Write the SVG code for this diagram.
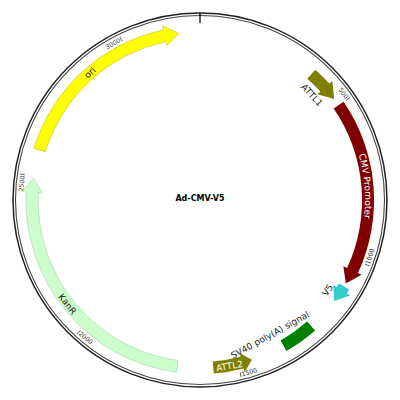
<svg xmlns="http://www.w3.org/2000/svg" width="400" height="400" viewBox="0 0 400 400">
<style>
text{font-family:"DejaVu Sans","Liberation Sans",sans-serif}
.lbl{font-size:9px;fill:#1a1a1a;text-anchor:middle}
.wl{font-size:9px;fill:#ffffff;text-anchor:middle}
.tk{font-size:6.3px;fill:#333;text-anchor:middle}
.tl{stroke:#333;stroke-width:0.8}
</style>
<defs>
<path id="cmvArc" d="M336.1,106.8 A164.5 164.5 0 0 1 349.8,269.2" fill="none"/>
</defs>
<rect width="400" height="400" fill="#fff"/>
<g id="backbone" fill="none">
<circle cx="200" cy="200" r="187" stroke="#222" stroke-width="1.5"/>
<circle cx="200" cy="200" r="184.5" stroke="#444" stroke-width="1.1"/>
<line x1="200" y1="13" x2="200" y2="23" stroke="#000" stroke-width="1.3"/>
</g>
<g id="ticks">
<line class="tl" x1="346.1" y1="100.2" x2="350.3" y2="97.3"/>
<line class="tl" x1="364.9" y1="264.2" x2="369.6" y2="266.0"/>
<line class="tl" x1="240.1" y1="372.4" x2="241.2" y2="377.3"/>
<line class="tl" x1="80.3" y1="330.3" x2="76.9" y2="334.0"/>
<line class="tl" x1="24.8" y1="174.7" x2="19.9" y2="174.0"/>
<line class="tl" x1="122.0" y1="41.1" x2="119.8" y2="36.6"/>
<text class="tk" dy=".35em" transform="translate(343.6,93.2) rotate(53.3)">500</text>
<text class="tk" dy=".35em" transform="translate(369.9,256.4) rotate(-71.65)">1000</text>
<text class="tk" dy=".35em" transform="translate(249.4,372.1) rotate(-16)">1500</text>
<text class="tk" dy=".35em" transform="translate(85.8,337.8) rotate(39.6)">2000</text>
<text class="tk" dy=".35em" transform="translate(21.75,183.5) rotate(-84.7)">2500</text>
<text class="tk" dy=".35em" transform="translate(113,43.6) rotate(-29.1)">3000</text>
</g>
<g id="ori">
<path d="M33.9,148.3 A174 174 0 0 1 163.5,29.9 L162.7,26.0 L178.6,33.4 L166.9,45.5 L166.0,41.6 A162 162 0 0 0 45.3,151.8 Z" fill="#ffff00" stroke="#b5b500" stroke-width="0.5"/>
<text class="lbl" dy=".35em" transform="translate(90,72.5) rotate(-41)">ori</text>
</g>
<g id="KanR">
<path d="M176.4,372.4 A174 174 0 0 1 26.2,191.8 L22.2,191.6 L33.4,178.1 L42.2,192.6 L38.2,192.4 A162 162 0 0 0 178.0,360.5 Z" fill="#ccffcc" stroke="#99c799" stroke-width="0.5"/>
<text class="lbl" dy=".35em" transform="translate(67.5,304) rotate(52)">KanR</text>
</g>
<g id="ATTL1">
<path d="M315.3,69.7 A174 174 0 0 1 329.3,83.6 L332.3,80.9 L334.2,98.9 L317.4,94.3 L320.4,91.6 A162 162 0 0 0 307.3,78.7 Z" fill="#808000"/>
<text class="lbl" dy=".35em" transform="translate(312,95) rotate(47)">ATTL1</text>
</g>
<g id="CMV_Promoter">
<path d="M343.6,101.7 A174 174 0 0 1 358.0,273.0 L361.6,274.7 L345.8,283.5 L343.4,266.3 L347.1,268.0 A162 162 0 0 0 333.7,108.5 Z" fill="#800000"/>
<text class="wl"><textPath href="#cmvArc" startOffset="50%">CMV Promoter</textPath></text>
</g>
<g id="V5">
<path d="M349.2,289.6 A174 174 0 0 1 346.8,293.5 L350.1,295.6 L334.2,301.1 L333.3,284.9 L336.6,287.0 A162 162 0 0 0 338.9,283.4 Z" fill="#33cccc"/>
<text class="lbl" dy=".35em" transform="translate(327.5,290) rotate(-55)">V5</text>
</g>
<g id="SV40_polyA">
<path d="M315.1,330.5 A174 174 0 0 1 286.5,351.0 L280.5,340.6 A162 162 0 0 0 307.1,321.5 Z" fill="#008000"/>
<text class="lbl" dy=".35em" transform="translate(270,335) rotate(-29)">SV40 poly(A) signal</text>
</g>
<g id="ATTL2">
<path d="M213.7,373.5 A174 174 0 0 0 243.6,368.4 L244.6,372.3 L251.9,359.8 L239.6,353.0 L240.6,356.8 A162 162 0 0 1 212.7,361.5 Z" fill="#808000"/>
<text class="wl" dy=".35em" transform="translate(229.5,366) rotate(-10)">ATTL2</text>
</g>
<g id="title">
<text x="200" y="201" font-size="8" font-weight="bold" fill="#000" text-anchor="middle">Ad-CMV-V5</text>
</g>
<g id="connectors"></g>
</svg>
